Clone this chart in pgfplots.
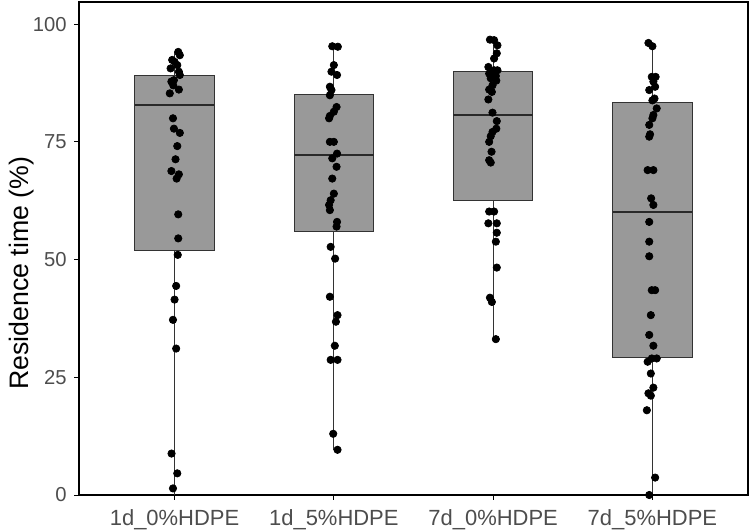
\documentclass[border=0pt]{standalone}
\usepackage{fontspec}
\setmainfont{Liberation Sans}
\usepackage{pgfplots}
\pgfplotsset{compat=1.18}
\usepgfplotslibrary{statistics}
\definecolor{boxfill}{RGB}{153,153,153}
\definecolor{boxline}{RGB}{51,51,51}
\definecolor{ticktext}{RGB}{77,77,77}

\begin{document}
\begin{tikzpicture}
\useasboundingbox (0,0) rectangle (15cm,10.58cm);
\begin{axis}[
    at={(1.58cm,0.68cm)}, anchor=south west,
    scale only axis,
    width=13.38cm, height=9.86cm,
    xmin=0.4, xmax=4.6, ymin=0, ymax=104.7,
    xtick={1,2,3,4},
    xticklabels={1d\_0\%HDPE,1d\_5\%HDPE,7d\_0\%HDPE,7d\_5\%HDPE},
    ytick={0,25,50,75,100},
    tick pos=left, tick align=outside,
    major tick length=0.09cm,
    every tick/.style={black, line width=0.5pt},
    axis line style={black, line width=0.6pt},
    /pgf/number format/assume math mode=true,
    yticklabel style={font=\fontsize{11.5}{13}\selectfont, text=ticktext, xshift=-1pt},
    xticklabel style={font=\fontsize{12.5}{14}\selectfont, text=ticktext, yshift=-2pt},
    ylabel={Residence time (\%)},
    every axis y label/.style={at={(axis description cs:-0.086,0.45)}, rotate=90, anchor=center,
        font=\fontsize{15.2}{17}\selectfont},
    boxplot/draw direction=y,
    boxplot/box extend=0.5,
    boxplot/whisker extend=0,
    boxplot/every box/.style={draw=boxline, fill=boxfill, line width=0.6pt},
    boxplot/every whisker/.style={draw=boxline, line width=0.7pt},
    boxplot/every median/.style={draw=boxline!80!black, line width=1.3pt},
]
\addplot[boxplot prepared={draw position=1, lower whisker=0, lower quartile=52.0,
    median=82.8, upper quartile=89.0, upper whisker=94.1}] coordinates {};
\addplot[boxplot prepared={draw position=2, lower whisker=9.6, lower quartile=56.0,
    median=72.2, upper quartile=85.1, upper whisker=95.3}] coordinates {};
\addplot[boxplot prepared={draw position=3, lower whisker=33.1, lower quartile=62.6,
    median=80.7, upper quartile=90.0, upper whisker=96.7}] coordinates {};
\addplot[boxplot prepared={draw position=4, lower whisker=0, lower quartile=29.3,
    median=60.1, upper quartile=83.4, upper whisker=96.0}] coordinates {};

% jittered observations
\addplot[only marks, mark=*, mark size=2.1pt, black] coordinates {
(1.023,94.1)(1.033,93.4)(0.985,92.4)(1.000,92.0)(1.017,91.3)(0.975,90.6)(1.027,89.9)
(1.033,89.2)(0.996,88.1)(0.980,87.8)(0.992,87.0)(1.027,86.1)(0.970,85.3)(0.990,80.0)
(0.996,77.8)(1.033,76.9)(1.017,74.1)(1.006,71.3)(0.980,68.8)(1.027,68.1)(1.013,67.2)
(1.023,59.6)(1.023,54.5)(1.020,51.0)(1.010,44.4)(1.000,41.5)(0.990,37.2)(1.010,31.1)
(0.981,8.8)(1.017,4.6)(0.990,1.4)
};
\addplot[only marks, mark=*, mark size=2.1pt, black] coordinates {
(1.990,95.3)(2.025,95.2)(2.000,91.3)(1.985,89.9)(2.020,89.2)(1.975,86.7)(1.985,86.0)
(1.975,84.9)(2.017,82.4)(2.000,81.4)(1.975,80.5)(1.970,80.0)(1.975,75.0)(2.000,75.0)
(2.020,72.5)(1.990,71.5)(2.017,69.7)(1.990,67.2)(2.000,64.0)(1.980,62.6)(1.970,61.6)
(1.975,60.5)(2.020,58.0)(2.017,57.0)(1.980,52.7)(2.008,50.2)(1.975,42.1)(2.023,38.2)
(2.013,36.8)(2.006,31.7)(1.980,28.7)(2.023,28.7)(1.996,13.0)(2.023,9.6)
};
\addplot[only marks, mark=*, mark size=2.1pt, black] coordinates {
(2.980,96.7)(3.006,96.6)(3.027,95.5)(3.023,93.8)(3.006,92.7)(2.970,90.9)(3.006,90.2)
(3.027,90.2)(2.975,89.5)(3.017,89.0)(2.985,88.5)(3.020,88.0)(2.996,87.0)(2.975,86.1)
(2.992,85.6)(2.970,84.0)(2.996,81.2)(3.023,79.4)(3.020,77.8)(2.996,77.1)(2.985,76.2)
(2.975,75.0)(2.990,72.9)(2.975,71.1)(2.985,70.6)(2.975,60.2)(3.006,60.2)(2.970,57.7)
(3.023,57.7)(3.023,55.7)(3.017,53.8)(3.023,48.3)(2.980,41.9)(2.992,41.0)(3.017,33.1)
};
\addplot[only marks, mark=*, mark size=2.1pt, black] coordinates {
(3.975,96.0)(4.000,95.3)(3.996,88.8)(4.020,88.8)(4.006,87.8)(4.017,86.7)(3.980,86.0)
(4.013,84.2)(4.000,83.8)(4.027,82.1)(4.006,80.7)(4.000,80.0)(3.980,78.6)(3.985,76.6)
(3.980,76.1)(3.970,69.0)(4.006,69.0)(3.992,63.0)(4.006,61.6)(3.980,58.0)(3.980,53.8)
(3.980,50.7)(3.996,43.5)(4.017,43.5)(3.990,38.2)(3.980,34.0)(4.006,31.7)(3.996,29.0)
(4.027,29.0)(3.970,28.3)(3.990,25.8)(4.006,22.8)(3.975,21.6)(3.990,21.1)(3.965,18.0)
(4.017,3.7)(3.980,0.0)
};
\end{axis}
\end{tikzpicture}
\end{document}
